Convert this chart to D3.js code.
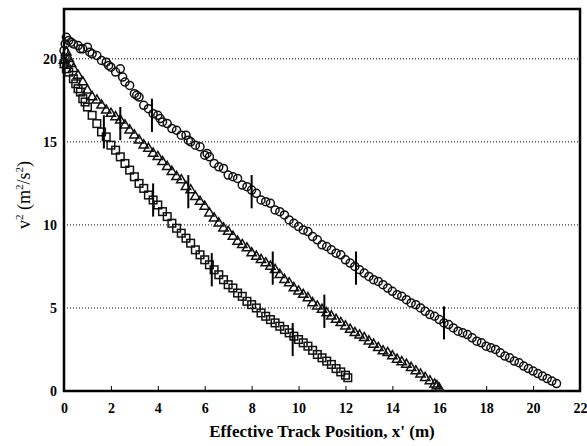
<!DOCTYPE html>
<html>
<head>
<meta charset="utf-8">
<script src="https://cdn.jsdelivr.net/npm/d3@7"></script>
<style>
    body { margin: 0; background: #fff; }
    text { font-family: "Liberation Serif", "Times New Roman", serif; fill: #000; }
</style>
</head>
<body>
<div id="viz"></div>
<script>
// [x' (m), v^2 (m^2/s^2)]
let circles = [[0.0,20.5],[0.05,20.9],[0.1,21.3],[0.2,21.1],[0.3,21.0],[0.4,20.9],[0.6,20.8],[0.7,20.6],[0.8,20.6],[1.0,20.7],[1.1,20.4],[1.2,20.3],[1.4,20.2],
    [1.6,19.9],[1.8,19.8],[1.9,19.6],[2.0,19.5],[2.2,19.2],[2.4,19.4],[2.5,18.9],[2.6,18.6],[2.8,18.4],[3.0,17.9],[3.1,17.8],[3.2,17.7],[3.4,17.2],
    [3.6,17.0],[3.8,16.7],[4.0,16.6],[4.1,16.4],[4.2,16.2],[4.4,16.1],[4.6,15.8],[4.8,15.7],[5.0,15.4],[5.2,15.4],[5.3,15.1],[5.4,15.0],
    [5.6,14.8],[5.8,14.7],[6.0,14.2],[6.1,14.3],[6.2,14.1],[6.4,13.7],[6.6,13.5],[6.8,13.4],[7.0,13.0],[7.2,12.9],[7.4,12.8],
    [7.6,12.4],[7.8,12.3],[8.0,12.1],[8.2,11.9],[8.4,11.5],[8.6,11.4],[8.8,11.3],[9.0,10.9],[9.2,10.8],[9.4,10.6],
    [9.6,10.3],[9.8,10.1],[10.0,9.9],[10.2,9.7],[10.4,9.6],[10.6,9.3],[10.8,9.1],[11.0,8.8],[11.2,8.7],[11.4,8.5],
    [11.6,8.3],[11.8,8.2],[12.0,7.9],[12.2,7.7],[12.4,7.5],[12.6,7.3],[12.8,7.1],[13.0,6.9],[13.2,6.7],[13.4,6.6],
    [13.6,6.4],[13.8,6.2],[14.0,6.0],[14.2,5.8],[14.4,5.7],[14.6,5.5],[14.8,5.3],[15.0,5.2],[15.2,5.0],[15.4,4.8],
    [15.6,4.6],[15.8,4.5],[16.0,4.3],[16.2,4.1],[16.4,4.0],[16.6,3.8],[16.8,3.6],[17.0,3.5],[17.2,3.4],[17.4,3.2],
    [17.6,3.0],[17.8,2.9],[18.0,2.7],[18.2,2.6],[18.4,2.5],[18.6,2.3],[18.8,2.1],[19.0,2.0],[19.2,1.8],[19.4,1.7],
    [19.6,1.5],[19.8,1.35],[20.0,1.2],[20.2,1.05],[20.4,0.9],[20.6,0.75],[20.8,0.6],[21.0,0.45]];

let triangles = [[0.0,19.9],[0.1,20.4],[0.2,20.0],[0.3,19.7],[0.4,19.4],[0.6,19.0],[0.8,18.6],[1.0,18.1],[1.2,17.7],[1.4,17.5],[1.6,17.2],
    [1.8,16.9],[2.0,16.7],[2.2,16.5],[2.4,16.3],[2.6,16.0],[2.8,15.7],[3.0,15.4],[3.2,15.1],[3.4,14.8],[3.6,14.6],
    [3.8,14.3],[4.0,14.1],[4.2,13.8],[4.4,13.5],[4.6,13.2],[4.8,12.9],[5.0,12.7],[5.2,12.3],[5.4,12.1],[5.6,11.7],
    [5.8,11.4],[6.0,11.1],[6.2,10.7],[6.4,10.4],[6.6,10.1],[6.8,9.8],[7.0,9.6],[7.2,9.3],[7.4,9.0],[7.6,8.8],
    [7.8,8.6],[8.0,8.3],[8.2,8.1],[8.4,7.9],[8.6,7.7],[8.8,7.5],[9.0,7.3],[9.2,7.0],[9.4,6.7],[9.6,6.5],
    [9.8,6.2],[10.0,6.0],[10.2,5.8],[10.4,5.6],[10.6,5.3],[10.8,5.1],[11.0,4.9],[11.2,4.7],[11.4,4.5],[11.6,4.3],
    [11.8,4.1],[12.0,3.9],[12.2,3.7],[12.4,3.5],[12.6,3.35],[12.8,3.2],[13.0,3.0],[13.2,2.8],[13.4,2.6],[13.6,2.4],
    [13.8,2.3],[14.0,2.1],[14.2,1.9],[14.4,1.75],[14.6,1.6],[14.8,1.4],[15.0,1.2],[15.2,1.0],[15.4,0.8],[15.6,0.6],
    [15.8,0.4],[15.9,0.3],[16.0,0.15]];

let squares = [[0.0,19.7],[0.05,20.0],[0.1,19.4],[0.2,19.2],[0.4,18.8],[0.5,18.5],[0.6,18.2],[0.7,18.0],[0.8,17.6],[0.9,17.4],[1.0,17.1],[1.2,16.6],
    [1.4,16.1],[1.6,15.6],[1.8,15.3],[2.0,14.8],[2.2,14.5],[2.4,14.1],[2.6,13.7],[2.8,13.3],[3.0,12.9],[3.2,12.5],
    [3.4,12.2],[3.6,11.8],[3.8,11.5],[4.0,11.2],[4.2,10.8],[4.4,10.5],[4.6,10.1],[4.8,9.8],[5.0,9.5],[5.2,9.2],
    [5.4,8.9],[5.6,8.5],[5.8,8.2],[6.0,7.9],[6.2,7.6],[6.4,7.3],[6.6,7.0],[6.8,6.7],[7.0,6.4],[7.2,6.2],
    [7.4,5.9],[7.6,5.7],[7.8,5.4],[8.0,5.2],[8.2,5.0],[8.4,4.7],[8.6,4.5],[8.8,4.3],[9.0,4.1],[9.2,3.9],
    [9.4,3.7],[9.6,3.5],[9.8,3.3],[10.0,3.1],[10.2,2.9],[10.4,2.7],[10.6,2.45],[10.8,2.2],[11.0,2.0],[11.2,1.8],
    [11.4,1.6],[11.6,1.35],[11.8,1.15],[12.0,0.95],[12.1,0.8]];

// error bars [x, y centre, half length]
let circle_err = [[3.75,16.6,1.0],[8.0,12.0,1.0],[12.45,7.4,1.0],[16.2,4.1,1.0]];
let triangle_err = [[2.4,16.1,1.0],[5.3,12.0,1.0],[8.9,7.4,1.0],[11.1,4.8,1.0]];
let square_err = [[1.7,15.6,1.0],[3.8,11.5,1.0],[6.3,7.3,1.0],[9.75,3.1,1.0]];

let x_ticks = [0, 2, 4, 6, 8, 10, 12, 14, 16, 18, 20, 22];
let y_ticks = [0, 5, 10, 15, 20];
let grid_vals = [5, 10, 15, 20];

window.onload = function () {
    draw()
}

function draw() {
    let width = 587, height = 446;
    let margin = {top: 9, right: 7, bottom: 55, left: 64};

    const svg = d3.select("#viz").append("svg")
        .attr("width", width)
        .attr("height", height);

    const x = d3.scaleLinear().domain([0, 22]).range([margin.left, width - margin.right]);
    const y = d3.scaleLinear().domain([0, 23]).range([height - margin.bottom, margin.top]);

    // dotted grid
    svg.append("g").selectAll("line")
        .data(grid_vals)
        .join("line")
        .attr("x1", x(0)).attr("x2", x(22))
        .attr("y1", d => y(d)).attr("y2", d => y(d))
        .attr("stroke", "#000")
        .attr("stroke-width", 1)
        .attr("stroke-dasharray", "1,2");

    // axes
    const xAxis = svg.append("g")
        .attr("transform", "translate(0," + y(0) + ")")
        .call(d3.axisBottom(x).tickValues(x_ticks).tickSize(-5).tickPadding(12));
    xAxis.select(".domain").remove();
    xAxis.selectAll("text").attr("font-size", 14).attr("font-family", "Liberation Serif").attr("font-weight", "bold");

    const yAxis = svg.append("g")
        .attr("transform", "translate(" + x(0) + ",0)")
        .call(d3.axisLeft(y).tickValues(y_ticks).tickSize(0).tickPadding(7));
    yAxis.select(".domain").remove();
    yAxis.selectAll("text").attr("font-size", 14).attr("font-family", "Liberation Serif").attr("font-weight", "bold");

    // frame
    svg.append("rect")
        .attr("x", x(0)).attr("y", y(23))
        .attr("width", x(22) - x(0))
        .attr("height", y(0) - y(23))
        .attr("fill", "none")
        .attr("stroke", "#000")
        .attr("stroke-width", 2.5);

    const marks = svg.append("g")
        .attr("fill", "none")
        .attr("stroke", "#111")
        .attr("stroke-width", 1.5);

    marks.append("g").selectAll("rect")
        .data(squares)
        .join("rect")
        .attr("x", d => x(d[0]) - 3.8)
        .attr("y", d => y(d[1]) - 3.8)
        .attr("width", 7.6)
        .attr("height", 7.6);

    const tri = d3.symbol().type(d3.symbolTriangle).size(38);
    marks.append("g").selectAll("path")
        .data(triangles)
        .join("path")
        .attr("d", tri)
        .attr("transform", d => "translate(" + x(d[0]) + "," + y(d[1]) + ")");

    marks.append("g").selectAll("circle")
        .data(circles)
        .join("circle")
        .attr("cx", d => x(d[0]))
        .attr("cy", d => y(d[1]))
        .attr("r", 4);

    // error bars
    let errs = square_err.concat(triangle_err).concat(circle_err);
    svg.append("g").selectAll("line")
        .data(errs)
        .join("line")
        .attr("x1", d => x(d[0])).attr("x2", d => x(d[0]))
        .attr("y1", d => y(d[1] - d[2])).attr("y2", d => y(d[1] + d[2]))
        .attr("stroke", "#000")
        .attr("stroke-width", 2);

    // titles
    svg.append("text")
        .attr("x", (x(0) + x(22)) / 2)
        .attr("y", 437)
        .attr("text-anchor", "middle")
        .attr("font-size", 17)
        .attr("font-weight", "bold")
        .text("Effective Track Position, x' (m)");

    const yl = svg.append("text")
        .attr("transform", "translate(30," + y(11.8) + ") rotate(-90)")
        .attr("text-anchor", "middle")
        .attr("font-size", 18);
    yl.append("tspan").text("v");
    yl.append("tspan").attr("dy", -7).attr("font-size", 11).text("2");
    yl.append("tspan").attr("dy", 7).text(" (m");
    yl.append("tspan").attr("dy", -7).attr("font-size", 11).text("2");
    yl.append("tspan").attr("dy", 7).text("/s");
    yl.append("tspan").attr("dy", -7).attr("font-size", 11).text("2");
    yl.append("tspan").attr("dy", 7).text(")");
}
</script>
</body>
</html>
